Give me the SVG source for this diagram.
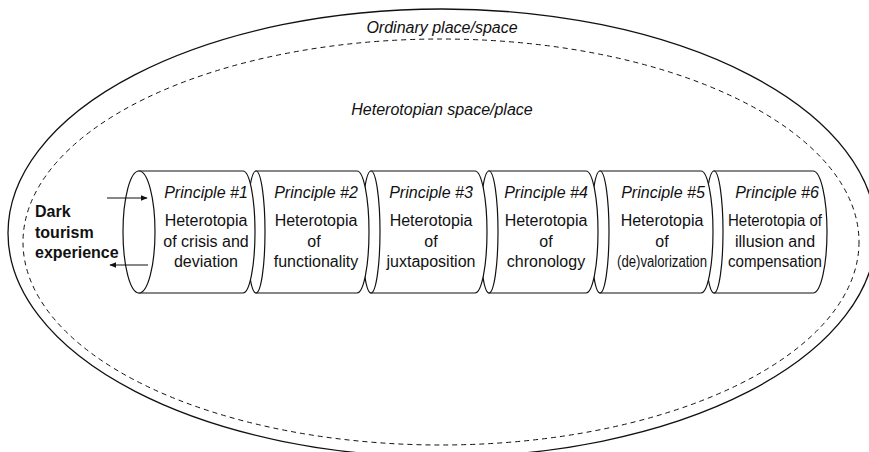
<svg xmlns="http://www.w3.org/2000/svg" width="869" height="452" viewBox="0 0 869 452">
<style>
text{font-family:"Liberation Sans",Arial,Helvetica,sans-serif;font-size:16px;fill:#111}
.it{font-style:italic}
.c{text-anchor:middle}
.b{font-weight:bold}
.cyl{fill:#fff;stroke:#111;stroke-width:1.2}
.ln{stroke:#111;stroke-width:1.1;fill:none}
</style>
<defs>
<marker id="ah" viewBox="0 0 10 10" refX="9" refY="5" markerWidth="7" markerHeight="7" markerUnits="userSpaceOnUse" orient="auto">
<path d="M0,1 L10,5 L0,9 Z" fill="#111"/>
</marker>
</defs>
<rect width="869" height="452" fill="#fff"/>
<g id="ordinary">
<ellipse cx="442" cy="233" rx="434" ry="224" fill="none" stroke="#111" stroke-width="1.3"/>
<text class="it c" x="442" y="33">Ordinary place/space</text>
</g>
<g id="heterotopian">
<ellipse cx="441" cy="242" rx="418" ry="203" fill="none" stroke="#111" stroke-width="1" stroke-dasharray="5,4"/>
<text class="it c" x="442" y="115">Heterotopian space/place</text>
</g>
<g id="p6">
<path class="cyl" d="M714,171 L813,171 A14,61 0 0 1 813,293 L714,293 Z"/>
<ellipse class="cyl" cx="714" cy="232" rx="9" ry="61"/>
<text class="it c" x="777" y="198">Principle #6</text>
<text class="c" x="775" y="226" textLength="94" lengthAdjust="spacingAndGlyphs">Heterotopia of</text>
<text class="c" x="775" y="247">illusion and</text>
<text class="c" x="775" y="267" textLength="94" lengthAdjust="spacingAndGlyphs">compensation</text>
</g>
<g id="p5">
<path class="cyl" d="M600,171 L701,171 A12,61 0 0 1 701,293 L600,293 Z"/>
<ellipse class="cyl" cx="600" cy="232" rx="9" ry="61"/>
<text class="it c" x="663" y="198">Principle #5</text>
<text class="c" x="662" y="226">Heterotopia</text>
<text class="c" x="662" y="247">of</text>
<text class="c" x="662" y="267" textLength="90" lengthAdjust="spacingAndGlyphs">(de)valorization</text>
</g>
<g id="p4">
<path class="cyl" d="M489,171 L586,171 A12,61 0 0 1 586,293 L489,293 Z"/>
<ellipse class="cyl" cx="489" cy="232" rx="9" ry="61"/>
<text class="it c" x="546" y="198">Principle #4</text>
<text class="c" x="546" y="226">Heterotopia</text>
<text class="c" x="546" y="247">of</text>
<text class="c" x="546" y="267">chronology</text>
</g>
<g id="p3">
<path class="cyl" d="M371,171 L475,171 A12,61 0 0 1 475,293 L371,293 Z"/>
<ellipse class="cyl" cx="371" cy="232" rx="9" ry="61"/>
<text class="it c" x="431" y="198">Principle #3</text>
<text class="c" x="431" y="226">Heterotopia</text>
<text class="c" x="431" y="247">of</text>
<text class="c" x="431" y="267">juxtaposition</text>
</g>
<g id="p2">
<path class="cyl" d="M256,171 L357,171 A12,61 0 0 1 357,293 L256,293 Z"/>
<ellipse class="cyl" cx="256" cy="232" rx="9" ry="61"/>
<text class="it c" x="316" y="198">Principle #2</text>
<text class="c" x="316" y="226">Heterotopia</text>
<text class="c" x="314" y="247">of</text>
<text class="c" x="316" y="267">functionality</text>
</g>
<g id="p1">
<path class="cyl" d="M139,171 L243,171 A12,61 0 0 1 243,293 L139,293 Z"/>
<ellipse class="cyl" cx="139" cy="232" rx="16" ry="61"/>
<text class="it c" x="206" y="198">Principle #1</text>
<text class="c" x="206" y="226">Heterotopia</text>
<text class="c" x="206" y="247">of crisis and</text>
<text class="c" x="206" y="267">deviation</text>
</g>
<g id="dark">
<text class="b" x="35" y="217">Dark</text>
<text class="b" x="35" y="238">tourism</text>
<text class="b" x="35" y="258">experience</text>
</g>
<g id="connectors">
<line class="ln" x1="107" y1="198" x2="147" y2="198" marker-end="url(#ah)"/>
<line class="ln" x1="148" y1="265" x2="110" y2="265" marker-end="url(#ah)"/>
</g>
</svg>
